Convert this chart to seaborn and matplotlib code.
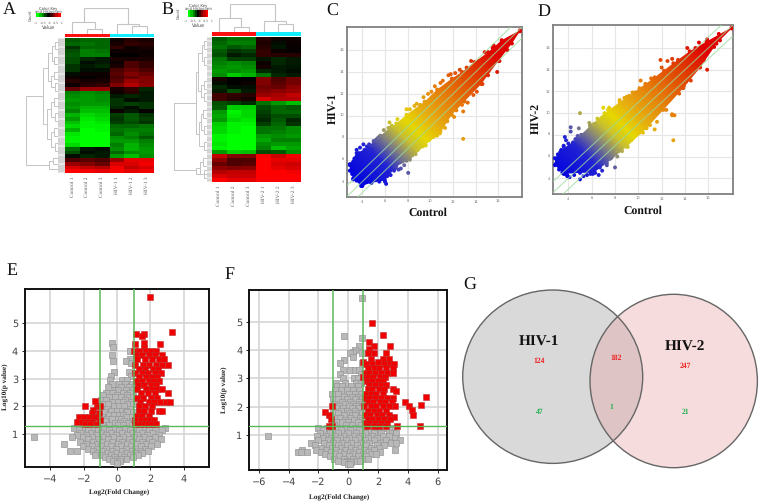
"""Multi panel figure: heatmaps, scatter plots, volcano plots and a venn diagram."""

import numpy as np
import pandas as pd
import matplotlib
matplotlib.use("Agg")
import matplotlib.pyplot as plt
import seaborn as sns
from matplotlib.colors import LinearSegmentedColormap, ListedColormap
from matplotlib.patches import Ellipse, Polygon

W, H = 760, 503
SERIF = "Liberation Serif"

# ---- heatmaps: columns are control 1-3, HIV 1-3
HEAT_A = [
    [-.35, -.40, -.40, .05, .15, .10], [-.40, -.45, -.40, .10, .20, .15],
    [-.20, -.40, -.40, .20, .05, .10], [-.30, -.50, -.45, .05, .05, .05],
    [-.35, -.50, -.50, .00, .00, .05], [-.30, -.15, -.10, .10, .10, .10],
    [-.30, -.05, -.10, .05, .30, .20], [-.20, -.10, -.15, .10, .30, .20],
    [-.20, -.05, -.05, .30, .40, .30], [-.05, .05, .05, .35, .50, .40],
    [.05, .00, .05, .30, .40, .50], [.15, .10, .10, .35, .60, .50],
    [.05, .15, .20, .50, .70, .55], [.40, .60, .60, .10, .20, -.15],
    [-.50, -.55, -.50, .05, .15, -.10], [-.55, -.60, -.55, -.10, -.15, -.10],
    [-.60, -.60, -.55, -.20, -.05, -.10], [-.55, -.60, -.60, -.20, -.25, -.20],
    [-.60, -.70, -.70, -.15, -.05, -.20], [-.50, -.75, -.75, .05, -.10, .02],
    [-.70, -.85, -.80, -.25, -.35, -.20], [-.60, -.90, -.85, -.20, -.35, -.25],
    [-.75, -.95, -.90, -.25, -.30, -.20], [-.85, -.95, -.95, -.40, -.40, -.45],
    [-.70, -1.0, -.95, -.45, -.50, -.50], [-.90, -1.0, -1.0, -.40, -.55, -.45],
    [-.95, -1.0, -1.0, -.55, -.50, -.35], [-.95, -1.0, -1.0, -.60, -.60, -.50],
    [-.85, -1.0, -1.0, -.50, -.70, -.55], [-.40, -.10, -.05, -.55, -.70, -.60],
    [-.30, -.05, -.10, -.40, -.55, -.60], [-.05, -.15, -.10, -.60, -.75, -.55],
    [.30, .35, .30, .60, .90, .90], [.60, .50, .40, .85, .85, .95],
    [.85, .75, .70, .95, .75, .85], [1.0, .95, .90, 1.0, .90, .95],
]
HEAT_B = [
    [-.35, -.45, -.45, .15, .05, .05], [-.40, -.50, -.50, .12, -.05, .05],
    [-.45, -.35, -.40, .15, -.08, .03], [-.35, -.20, -.25, .20, .05, .03],
    [-.30, -.10, -.15, .20, .15, .15], [-.45, -.25, -.25, -.08, -.15, -.10],
    [-.50, -.55, -.50, .05, -.15, -.10], [-.55, -.60, -.55, .08, -.10, -.08],
    [-.60, -.55, -.60, -.15, -.10, -.05], [-.55, -.80, -.70, -.45, -.15, -.10],
    [.10, .00, .00, .50, .30, .45], [-.05, .00, .05, .50, .35, .45],
    [-.15, -.05, -.05, .45, .40, .55], [-.10, -.30, -.10, .50, .55, .60],
    [.25, .20, .15, .60, .65, .75], [.25, .15, .10, .85, .70, .70],
    [-.30, -.25, -.15, -.45, -.60, -.75], [-.35, -.80, -.80, -.30, -.40, -.35],
    [-.60, -.95, -.85, -.25, -.40, -.40], [-.65, -.90, -.85, -.20, -.30, -.30],
    [-.60, -.85, -.90, -.15, -.35, -.15], [-.80, -.95, -.95, -.25, -.40, -.20],
    [-.85, -.95, -1.0, -.45, -.45, -.55], [-.85, -.95, -1.0, -.45, -.50, -.55],
    [-.95, -1.0, -1.0, -.60, -.55, -.60], [-.95, -1.0, -1.0, -.65, -.50, -.50],
    [-.90, -1.0, -1.0, -.55, -.60, -.60], [-.95, -1.0, -1.0, -.50, -.75, -.65],
    [-.60, -.80, -.75, -.30, -.35, -.55], [.75, .50, .50, .95, .80, .95],
    [.55, .30, .30, 1.0, .90, .90], [.40, .30, .35, 1.0, .85, .80],
    [.55, .50, .55, 1.0, .90, .85], [.70, .75, .75, 1.0, 1.0, .95],
    [.85, .80, .80, 1.0, 1.0, 1.0], [1.0, .90, .90, 1.0, 1.0, 1.0],
]
LABELS_A = ["Control 1", "Control 2", "Control 3", "HIV-1 1", "HIV-1 2", "HIV-1 3"]
LABELS_B = ["Control 1", "Control 2", "Control 3", "HIV-2 1", "HIV-2 2", "HIV-2 3"]
KEY_VALUES = [-1, -.75, -.5, -.25, 0, .25, .5, .75, 1]

# dendrogram merges: (pos1, height1, pos2, height2, height)
TOP_A = [(1.5, 0, 2.5, 0, 4.7), (.5, 0, 2.0, 4.7, 11.3), (4.5, 0, 5.5, 0, 8),
         (3.5, 0, 5.0, 8, 9.7), (1.25, 11.3, 4.25, 9.7, 25.3)]
TOP_B = [(1.5, 0, 2.5, 0, 5), (.5, 0, 2.0, 5, 14), (4.5, 0, 5.5, 0, 8.3),
         (3.5, 0, 5.0, 8.3, 11.7), (1.25, 14, 4.25, 11.7, 28)]
LEFT_A = [(1, 0, 3, 0, 3), (5, 0, 7, 0, 4), (2, 3, 6, 4, 6), (9, 0, 11, 0, 4), (12, 0, 14, 0, 3),
          (10, 4, 13, 3, 7), (4, 6, 11.5, 7, 10), (16, 0, 18, 0, 4), (20, 0, 22, 0, 3),
          (17, 4, 21, 3, 7), (24, 0, 26, 0, 4), (28, 0, 30, 0, 3), (25, 4, 29, 3, 7),
          (19, 7, 27, 7, 11), (8, 10, 23, 11, 15), (32, 0, 33.5, 0, 5), (32.7, 5, 35, 0, 9),
          (15.5, 15, 33.8, 9, 32.7)]
LEFT_B = [(1, 0, 3, 0, 3), (5, 0, 7, 0, 3), (2, 3, 6, 3, 5), (11, 0, 13, 0, 3), (14, 0, 16, 0, 3),
          (12, 3, 15, 3, 6), (4, 5, 13.5, 6, 9), (18, 0, 20, 0, 4), (22, 0, 24, 0, 3),
          (19, 4, 23, 3, 6), (26, 0, 28, 0, 3), (21, 6, 27, 3, 8), (8.7, 9, 24, 8, 10.7),
          (30, 0, 32, 0, 4), (31, 4, 34, 0, 7), (33, 0, 35, 0, 3), (32.5, 7, 34, 3, 11),
          (16.4, 10.7, 33.2, 11, 33)]

# ---- scatter clouds: outer edge of the point cloud and single points around it
C_UP_X = [2.9, 3.5, 4.5, 5.4, 6.4, 7.0, 7.9, 9.5, 10.6, 11.9, 12.8, 13.9, 15.1, 16.3, 17.9]
C_UP_Y = [5.6, 6.6, 7.1, 8.0, 8.9, 9.3, 10.1, 11.3, 12.4, 13.4, 14.0, 14.9, 15.8, 16.9, 17.8]
C_LO_X = [17.9, 17.2, 16.0, 14.5, 13.0, 11.9, 10.85, 9.5, 8.2, 7.0, 6.0, 4.8, 3.9, 3.2, 2.9]
C_LO_Y = [17.7, 16.6, 15.0, 12.9, 11.3, 10.1, 8.4, 7.3, 6.0, 5.4, 4.1, 3.9, 3.6, 4.3, 5.0]
C_DOTS_X = [2.9, 3.0, 3.1, 3.2, 3.5, 3.5, 3.7, 3.4, 3.5, 3.9, 4.0, 4.1, 3.2, 4.4, 4.7, 5.0, 5.5, 5.3, 5.6, 6.0,
            6.1, 5.9, 6.5, 6.9, 7.4, 7.6, 8.05, 7.7, 8.4, 8.9, 9.3, 9.9, 10.3, 10.9, 11.5, 10.2, 11.2, 12.3, 12.9,
            12.4, 12.8, 13.0, 12.5, 12.9, 15.9, 13.8, 14.6, 7.1, 7.9, 8.6, 9.4, 9.1, 10.1, 10.4, 11.1, 11.6, 12.2,
            13.2, 14.3, 15.5, 16.3, 4.1, 4.5, 5.0, 5.9, 6.4, 6.6, 6.3,
            3.3, 3.6, 3.8, 4.2, 4.6, 4.9, 5.2, 5.4, 3.1, 3.4, 3.7, 4.3, 4.5, 4.8, 5.2, 5.5, 5.7, 6.2, 6.8, 7.2,
            7.9, 8.7, 9.6, 10.6, 11.3, 12.1, 13.3, 14.1, 15.1, 16.1, 16.8, 8.2, 8.8, 9.8, 10.9, 11.8, 12.6, 13.6,
            14.8, 15.6]
C_DOTS_Y = [5.5, 5.0, 4.9, 5.8, 6.3, 6.9, 6.6, 4.5, 4.1, 3.8, 3.6, 3.8, 4.2, 7.2, 7.0, 7.5, 8.1, 7.9, 8.2, 4.0,
            3.8, 4.3, 4.6, 5.2, 5.2, 6.0, 4.8, 5.5, 6.4, 6.9, 7.2, 7.8, 8.1, 8.6, 9.5, 9.0, 9.9, 10.5, 10.4,
            11.0, 11.0, 11.4, 11.4, 7.9, 14.0, 11.9, 12.9, 9.7, 10.6, 10.9, 11.7, 11.0, 12.2, 12.7, 13.2, 13.7, 13.9,
            14.4, 15.0, 16.2, 16.7, 7.4, 7.1, 7.7, 8.7, 9.4, 9.1, 8.9,
            6.1, 6.0, 7.1, 6.9, 7.4, 7.3, 7.8, 7.7, 4.7, 4.9, 4.2, 4.0, 4.3, 3.9, 4.2, 4.0, 4.4, 4.5, 5.0, 5.1,
            5.9, 6.5, 7.3, 8.2, 8.9, 9.9, 11.2, 12.2, 13.7, 15.0, 16.0, 10.6, 11.1, 12.0, 13.0, 13.8, 14.2, 15.0,
            15.8, 16.4]
D_UP_X = [2.85, 3.4, 4.7, 5.85, 7.1, 8.4, 10.1, 11.4, 13.0, 14.4, 15.85, 18.0]
D_UP_Y = [5.85, 6.6, 7.6, 8.8, 10.0, 11.0, 12.3, 13.3, 14.6, 15.7, 16.6, 17.9]
D_LO_X = [18.0, 16.7, 15.3, 13.85, 12.15, 10.7, 9.0, 7.3, 6.15, 5.0, 3.6, 2.85]
D_LO_Y = [17.8, 16.4, 14.2, 12.3, 10.3, 8.6, 6.9, 5.4, 4.5, 4.5, 4.4, 5.2]
D_DOTS_X = [2.9, 3.0, 3.3, 3.4, 3.6, 3.5, 3.7, 3.9, 4.2, 4.2, 3.7, 3.8, 4.9, 5.0, 5.8, 5.9, 6.1, 6.3, 6.6, 6.9,
            7.0, 7.4, 8.0, 5.0, 7.3, 7.7, 8.6, 8.2, 9.1, 10.1, 10.7, 11.4, 11.6, 13.1, 12.9, 13.0, 12.9, 11.4,
            15.9, 13.9, 14.1, 9.0, 9.7, 10.2, 11.9, 12.5, 6.5, 6.2, 5.5, 5.1, 4.8, 14.9, 15.9, 16.5, 17.0,
            4.4, 5.3, 6.9, 7.5, 8.4, 9.5, 11.1, 12.2, 13.4, 14.8,
            3.1, 3.3, 3.6, 4.0, 4.3, 4.6, 3.2, 3.5, 3.9, 4.1, 4.5, 5.3, 5.6, 5.9, 6.7, 7.6, 8.3, 9.4, 10.4, 11.0,
            12.4, 13.5, 14.5, 15.6, 16.2, 8.8, 9.2, 10.6, 12.0, 12.9, 14.2, 15.2, 16.9]
D_DOTS_Y = [5.3, 5.7, 6.0, 6.6, 7.0, 4.5, 4.4, 4.3, 8.3, 8.7, 7.8, 7.5, 8.6, 10.0, 9.1, 8.9, 4.4, 4.5, 4.3, 4.7,
            10.5, 10.3, 5.0, 3.9, 5.2, 5.9, 6.5, 6.0, 6.9, 8.2, 8.7, 8.5, 9.2, 9.8, 9.8, 7.5, 9.9, 13.0,
            14.0, 12.5, 12.9, 11.5, 11.9, 13.0, 14.9, 14.8, 9.5, 9.0, 8.1, 8.0, 7.9, 16.0, 16.8, 16.1, 16.7,
            7.3, 8.0, 9.6, 10.5, 11.2, 11.9, 13.2, 13.9, 14.9, 15.6,
            6.2, 6.4, 6.9, 7.2, 7.0, 7.6, 4.8, 4.6, 4.2, 4.1, 4.3, 4.2, 4.3, 4.4, 5.0, 5.8, 6.5, 7.5, 8.2, 8.9,
            10.3, 11.8, 13.0, 14.9, 16.0, 11.4, 11.6, 12.7, 14.2, 15.0, 16.0, 16.5, 17.3]

# ---- volcano plots: log10(p) row -> log2 fold changes in that row
E_GRAY_ROWS = {
    4.3: [-.3], 4.15: [-.25], 4.0: [.75], 3.85: [-.3], 3.7: [.75], 3.63: [-.25, .55], 3.55: [.85],
    3.25: [-.2, .7], 3.1: [-.35, .85], 2.95: [-.4, .32, .62], 2.82: [-.33, .12, .47, .88],
    2.7: [-.52, .26, .73], 2.6: [-.12, .05, .55, .93], 2.5: [-.68, -.27, .36, .8], 2.42: [-.85, .02, .6],
    2.33: [-.47, -.15, .22, .72, .97], 2.24: [-.97, -.64, .45], 2.15: [-.31, .03, .33, .85],
    2.08: [-.8, -.52, .6, .98], 2.0: [-.18, .14, .42], 1.92: [-.93, -.63, .75], 1.85: [-.36, -.03, .28, .52],
    1.78: [-.77, .95, .62], 1.7: [-.48, -.2, .12, .38], 1.62: [-.92, .8, .55], 1.55: [-.6, -.31, .04, .26],
    1.47: [-1.02, -.75, .42, .98], 1.4: [-.12, .18, .68], 1.33: [-.88, -.46, .08, .36, .88],
    1.22: [-2.6, -2.05, -1.45, -.8, -.2, .45, 1.05, 1.62, 2.25, 2.9],
    1.14: [-2.28, -1.72, -1.12, -.5, .12, .75, 1.32, 1.92, 2.7],
    1.05: [-2.15, -1.58, -.97, -.34, .28, .9, 1.5, 2.12],
    .97: [-2.42, -1.85, -1.28, -.66, -.06, .58, 1.2, 1.78, 2.5],
    .9: [-5, -2.7, -2.05, -1.48, -.84, -.22, .36, 1.0, 1.6, 2.3],
    .82: [-1.72, -1.12, -.53, .12, .74, 1.34, 1.92, 2.62],
    .73: [-2.25, -1.42, -.88, -.3, .3, .92, 1.5, 2.12],
    .65: [-3.2, -1.86, -1.22, -.6, .05, .62, 1.18, 1.72, 2.42],
    .56: [-2.02, -1.5, -.95, -.36, .26, .84, 1.42, 2.02],
    .47: [-1.72, -1.2, -.66, -.08, .52, 1.1, 1.66],
    .4: [-2.8, -2.4, -1.45, -.86, -.3, .3, .88, 1.36, 1.88],
    .32: [-1.2, -.6, -.05, .52, 1.1, 1.52],
    .24: [-1.32, -.9, -.34, .24, .78, 1.28],
    .16: [-.72, -.18, .42, .98],
    .09: [-.5, -.02, .55, .22], .02: [-.24, .2], -.04: [-.02],
}
E_RED_ROWS = {
    5.95: [1.95], 4.7: [3.3], 4.6: [1.15, 1.6], 4.55: [1.5], 4.3: [1.6], 4.25: [1.05, 2.6], 4.1: [1.6],
    4.0: [1.0, 1.32, 1.72, 2.02, 2.34], 3.87: [1.12, 1.48, 1.93, 2.28, 2.68], 3.72: [1.22, 1.7, 2.1, 2.52, 2.8],
    3.5: [1.08, 1.53, 1.9, 2.33, 2.7, 3.05], 3.36: [1.3, 1.68, 2.14, 2.48], 3.22: [1.1, 1.52, 1.87, 2.3, 2.62],
    3.06: [1.32, 1.72, 2.08, 2.42], 2.92: [1.12, 1.48, 1.93, 2.2, 2.52], 2.76: [1.28, 1.62, 2.03, 2.33],
    2.62: [1.18, 1.72, 2.12, 2.38, 2.7], 2.5: [1.42, 1.83, 2.28, 3.05], 2.32: [1.2, 1.58, 2.03, 2.42],
    2.15: [1.38, 1.92, 2.22, 2.6, 2.92, 3.2], 2.02: [1.32, 1.7, 2.1, -1.95, -1.2, -1.05], 2.2: [-1.3],
    1.87: [-1.45], 1.82: [1.3, 1.62, 2.02, 2.5, 2.7], 1.75: [-1.5, -1.1], 1.66: [1.2, 1.52, 1.9],
    1.6: [-2.3, -2, -1.7, -1.4, -1.2], 1.5: [1.1, 1.42, 1.72, 2.0, 2.2, -1.05],
    1.42: [-2.4, -2.1, -1.8, -1.5], 1.35: [1.08, 1.38, 1.62, 1.88, 2.12, 2.32, -1.9, -1.6, -1.2],
}
F_GRAY_ROWS = {
    5.85: [.9], 4.52: [-.3], 4.42: [.9], 4.15: [.75], 4.0: [.45], 3.95: [.3], 3.9: [.1, .95], 3.75: [.3],
    3.65: [-.3], 3.55: [-.55, .9], 3.3: [-.35, .1, .42, .7], 3.15: [-.55, .85], 3.0: [-.33, .35, .65],
    2.85: [-.8, -.2, .52, .86], 2.72: [-.75, -.42, .15, .66], 2.58: [-.92, -.5, -.08, .3, .72],
    2.46: [-1.12, -.68, .02, .45, .88], 2.36: [-.32, .24, .62], 2.27: [-1.05, -.72, -.1, .42, .95],
    2.18: [-.42, .1, .7], 2.1: [-.95, -.2, .33, .82], 2.02: [-.62, .04, .52, .97], 1.94: [-.84, -.34, .22, .72],
    1.85: [-1.0, -.5, -.1, .42], 1.77: [-.7, .06, .62, .92], 1.69: [-.32, .28, .48], 1.61: [-.92, -.58, .12, .78],
    1.52: [-.24, .38, .95], 1.45: [-.75, -.44, 0, .62], 1.36: [-.98, -.14, .24, .84],
    1.24: [-2.0, -1.42, -.82, -.2, .42, 1.02, 1.62, 2.4, 3.0],
    1.16: [-1.7, -1.12, -.5, .12, .72, 1.32, 2.02, 2.72],
    1.08: [-1.9, -1.25, -.66, -.05, .55, 1.15, 1.75, 2.2, 2.9, 3.2],
    .98: [-5.4, -2.1, -1.48, -.88, -.28, .35, .95, 1.6, 2.32, 2.7],
    .9: [-1.72, -1.14, -.55, .05, .66, 1.3, 1.95, 3.1],
    .82: [-2.0, -1.36, -.76, -.14, .46, 1.1, 1.75, 2.5, 3.5],
    .72: [-2.5, -1.62, -1.02, -.42, .2, .85, 1.42, 2.1, 2.85, 3.2],
    .64: [-2.2, -1.32, -.7, -.06, .56, 1.2, 1.9, 2.4],
    .55: [-1.82, -1.08, -.46, .18, .8, 1.5, 2.05],
    .47: [-3.1, -2.15, -1.48, -.84, -.22, .42, 1.06, 1.72, 3.1],
    .4: [-3.4, -3.2, -2.8, -1.86, -1.18, -.55, .1, .7, 1.32, 2.1],
    .33: [-1.55, -.92, -.3, .34, .96, 1.52, 1.85],
    .25: [-1.22, -.62, .02, .62, 1.22],
    .16: [-.96, -.32, .3, .92, 1.3],
    .09: [-.68, -.1, .5, .8], .03: [-.3, .2], -.03: [-.05, .1],
}
F_RED_ROWS = {
    4.97: [1.6], 4.55: [2.35], 4.3: [1.4], 4.15: [1.75, 2.8], 4.05: [1.4], 3.9: [1.3, 1.75, 2.5], 3.7: [2.3, 1.5, 2.7],
    3.6: [1.0, 2.0], 3.5: [1.2, 1.62, 2.42, 2.8, 3.05], 3.36: [1.3, 1.72, 2.08, 2.52, 3.0],
    3.2: [1.12, 1.42, 1.78, 2.22, 2.62, 3.0], 3.06: [1.0, 1.32, 1.68, 2.12, 2.48], 2.92: [1.28, 1.62, 2.02, 2.32],
    2.76: [1.42, 1.78, 2.22, 2.52], 2.62: [1.3, 1.58, 2.03, 2.38, 3.0], 2.55: [3.2], 2.46: [1.22, 1.52, 1.88, 2.32],
    2.35: [5.2], 2.3: [1.1, 1.42, 1.82, 2.18, 2.62, 3.0], 2.16: [1.3, 1.68, 2.12, 2.48, 2.92, 3.8],
    2.07: [4.85], 2.02: [1.08, 1.52, 1.88, 2.32, 2.72, 3.1, 4.1, -1.1], 1.9: [4.3], 1.86: [1.32, 1.7, 2.08, 2.52],
    1.82: [-1.55], 1.7: [1.1, 1.48, 1.92, 2.28, 2.72, 4.35, -1.3], 1.65: [3.05], 1.55: [1.3, 1.62, 2.02, 2.38, 2.8, -1.15],
    1.42: [1.1, 1.42, 1.78, 2.22, 2.62], 1.33: [1.28, 1.72, 2.08, 2.52, 3.25, 4.8, -1.3, -1.1],
}

# ---- venn diagram counts
VENN_UP = ["124", "182", "247"]
VENN_DOWN = ["47", "1", "21"]

HEAT_CMAP = LinearSegmentedColormap.from_list("gkr", ["#00ff00", "#000000", "#ff0000"])
INTENSITY_CMAP = LinearSegmentedColormap.from_list("intensity", [
    (0.0, "#0000e0"), (0.16, "#2222d4"), (0.24, "#7d7d85"), (0.31, "#c8c030"), (0.37, "#e6d800"),
    (0.46, "#e6ac10"), (0.60, "#e67408"), (0.76, "#e03400"), (0.88, "#e00000"), (1.0, "#e00000")])

sns.set_style("white")
plt.rcParams["font.family"] = ["DejaVu Sans"]
plt.rcParams["text.hinting"] = "no_hinting"
fig = plt.figure(figsize=(W / 100, H / 100), dpi=100)


def px_axes(left, top, right, bottom):
    """Axes placed by pixel position in the 760x503 picture."""
    return fig.add_axes([left / W, 1 - bottom / H, (right - left) / W, (bottom - top) / H])


def px_text(x, y, s, **kw):
    kw.setdefault("ha", "center")
    kw.setdefault("va", "center")
    fig.text(x / W, 1 - y / H, s, **kw)


def draw_dendrogram(ax, merges, vertical):
    for p1, h1, p2, h2, h in merges:
        xs, ys = [p1, p1, p2, p2], [h1, h, h, h2]
        if vertical:
            ax.plot(xs, ys, color="#c4c4c4", lw=0.8, solid_joinstyle="miter")
        else:
            ax.plot(ys, xs, color="#c4c4c4", lw=0.7, solid_joinstyle="miter")
    ax.axis("off")


def heatmap_panel(rows, labels, top_merges, left_merges, box, split_y, key):
    left, top, right, bottom, den_left, den_base, top_y = box
    n = len(rows)

    ax = px_axes(left, top, right, bottom)
    sns.heatmap(pd.DataFrame(rows), ax=ax, cmap=HEAT_CMAP, vmin=-1, vmax=1, cbar=False,
                xticklabels=labels, yticklabels=False)
    ax.tick_params(axis="x", length=0, pad=2.5, labelsize=3.9, labelcolor="#555555", rotation=90)
    for t in ax.get_xticklabels():
        t.set_family(SERIF)
    ax.set_yticks(np.arange(0.15, n, 0.3))
    ax.set_yticklabels([])
    ax.tick_params(axis="y", left=True, length=(left - den_base) * 0.72, width=0.35, color="#9a9a9a")
    ax.set_xlabel("")
    ax.set_ylabel("")

    bar = px_axes(left, split_y[0], right, split_y[1])
    sns.heatmap(pd.DataFrame([[0, 0, 0, 1, 1, 1]]), ax=bar, cmap=ListedColormap(["#ff1010", "#10eeff"]),
                cbar=False, xticklabels=False, yticklabels=False)
    bar.set_xlabel("")
    bar.set_ylabel("")

    top_ax = px_axes(left, top_y, right, split_y[0])
    draw_dendrogram(top_ax, top_merges, True)
    top_ax.set_xlim(0, 6)
    top_ax.set_ylim(0, split_y[0] - top_y)

    left_ax = px_axes(den_left, top, den_base, bottom)
    draw_dendrogram(left_ax, left_merges, False)
    left_ax.set_xlim(den_base - den_left, 0)
    left_ax.set_ylim(n, 0)

    # colour key
    kl, kt, kr, kb, title_y, value_y, count_x = key
    key_ax = px_axes(kl, kt, kr, kb)
    sns.heatmap(pd.DataFrame([KEY_VALUES]), ax=key_ax, cmap=HEAT_CMAP, vmin=-1, vmax=1, cbar=False,
                xticklabels=False, yticklabels=False)
    key_ax.set_xlabel("")
    key_ax.set_ylabel("")
    cx = (kl + kr) / 2
    px_text(cx, title_y, "Color Key", fontsize=2.8, color="#444444")
    px_text(cx, title_y + 3.5, "and Histogram", fontsize=2.6, color="#444444")
    px_text(cx, value_y - 4.5, "-1   -0.5   0   0.5   1", fontsize=2.2, color="#555555")
    px_text(cx, value_y, "Value", fontsize=3.4, color="#444444")
    px_text(count_x, (kt + kb) / 2, "Count", fontsize=2.8, rotation=90, color="#444444")


def cloud_panel(box, xlim, ylim, up_x, up_y, lo_x, lo_y, dots_x, dots_y):
    ax = px_axes(*box)
    ax.set_xlim(*xlim)
    ax.set_ylim(*ylim)

    # filled cloud, coloured by mean intensity
    gx, gy = np.meshgrid(np.arange(xlim[0], xlim[1], 0.05), np.arange(ylim[0], ylim[1], 0.05))
    img = ax.imshow((gx + gy) / 2, extent=(*xlim, *ylim), origin="lower", aspect="auto",
                    cmap=INTENSITY_CMAP, vmin=3.5, vmax=17.5, zorder=2)
    outline = Polygon(np.column_stack([up_x + lo_x, up_y + lo_y]), closed=True, transform=ax.transData)
    img.set_clip_path(outline)

    df = pd.DataFrame({"x": dots_x, "y": dots_y})
    df["mean"] = (df["x"] + df["y"]) / 2
    edge = pd.DataFrame({"x": up_x + lo_x, "y": up_y + lo_y})
    edge["mean"] = (edge["x"] + edge["y"]) / 2
    for part in (df, edge):
        sns.scatterplot(data=part, x="x", y="y", hue="mean", palette=INTENSITY_CMAP, hue_norm=(3.5, 17.5),
                        s=8, linewidth=0, legend=False, ax=ax, zorder=3)

    for shift in (-1, 0, 1):
        ax.axline((4, 4 + shift), slope=1, color="#9bdc9b", lw=0.8, alpha=0.75, zorder=4)

    ax.set_xticks([4, 6, 8, 10, 12, 14, 16])
    ax.set_yticks([4, 6, 8, 10, 12, 14, 16])
    ax.grid(True, color="#e6e6e6", lw=0.8)
    ax.set_axisbelow(True)
    ax.tick_params(length=0, labelsize=2.6, labelcolor="#777777", pad=2)
    ax.set_xlabel("")
    ax.set_ylabel("")
    for s in ax.spines.values():
        s.set_color("#808080")
        s.set_linewidth(1.3)


def rows_to_frame(rows):
    pts = [(x, y) for y, xs in rows.items() for x in xs]
    return pd.DataFrame(pts, columns=["fc", "logp"])


def volcano_panel(box, xlim, ylim, xticks, gray_rows, red_rows):
    ax = px_axes(*box)
    sns.scatterplot(data=rows_to_frame(gray_rows), x="fc", y="logp", marker="s", s=22, color="#b8b8b8",
                    edgecolor="#979797", linewidth=0.5, ax=ax, zorder=3)
    sns.scatterplot(data=rows_to_frame(red_rows), x="fc", y="logp", marker="s", s=22, color="#f00000",
                    edgecolor="#c03030", linewidth=0.4, ax=ax, zorder=4)
    ax.set_xlim(*xlim)
    ax.set_ylim(*ylim)
    ax.set_xticks(xticks)
    ax.set_yticks([1, 2, 3, 4, 5])
    ax.grid(True, color="#d2d2d2", lw=1.1)
    ax.set_axisbelow(True)
    ax.axhline(1.3, color="#5cb85c", lw=1, zorder=5)
    ax.axvline(-1, color="#5cb85c", lw=1.1, zorder=5)
    ax.axvline(1, color="#5cb85c", lw=1.1, zorder=5)
    ax.tick_params(left=True, bottom=True, length=2.5, width=0.7, labelsize=7, labelcolor="#444444", pad=2.5)
    ax.set_xlabel("")
    ax.set_ylabel("")
    for s in ax.spines.values():
        s.set_color("#111111")
        s.set_linewidth(1.4)


# ---- panels A and B
heatmap_panel(HEAT_A, LABELS_A, TOP_A, LEFT_A, (65, 38, 154, 173, 25, 58.3, 8), (33.7, 37),
              (36, 12.7, 61, 17.3, 8, 27.5, 31.5))
heatmap_panel(HEAT_B, LABELS_B, TOP_B, LEFT_B, (211.7, 37.3, 300.7, 181.7, 173, 206.7, 4), (32.3, 35.7),
              (188.3, 10, 207.7, 16.7, 5, 25.7, 180))

# ---- panels C and D
cloud_panel((347, 27, 522, 197), (2.65, 18.09), (2.6, 18.1), C_UP_X, C_UP_Y, C_LO_X, C_LO_Y, C_DOTS_X, C_DOTS_Y)
cloud_panel((552.7, 25, 732.7, 194), (2.66, 18.09), (2.55, 18.12), D_UP_X, D_UP_Y, D_LO_X, D_LO_Y,
            D_DOTS_X, D_DOTS_Y)

# ---- panels E and F
volcano_panel((25, 289.3, 209, 467.3), (-5.52, 5.52), (-0.2, 6.23), [-4, -2, 0, 2, 4], E_GRAY_ROWS, E_RED_ROWS)
volcano_panel((249.3, 290.3, 446.7, 470), (-6.64, 6.6), (-0.24, 6.12), [-6, -4, -2, 0, 2, 4, 6],
              F_GRAY_ROWS, F_RED_ROWS)

# ---- panel G, drawn on a full-figure axes in pixel units
venn = fig.add_axes([0, 0, 1, 1], zorder=-1)
venn.set_xlim(0, W)
venn.set_ylim(H, 0)
venn.axis("off")
venn.add_patch(Ellipse((552.7, 376.7), 180, 173.4, facecolor="#d9d9d9", edgecolor="none"))
venn.add_patch(Ellipse((673.7, 381), 167.4, 173.4, facecolor="#e8a0a0", alpha=0.36, edgecolor="none"))
venn.add_patch(Ellipse((552.7, 376.7), 180, 173.4, facecolor="none", edgecolor="#666666", lw=1))
venn.add_patch(Ellipse((673.7, 381), 167.4, 173.4, facecolor="none", edgecolor="#666666", lw=1))

px_text(539, 341.7, "HIV-1", family=SERIF, weight="bold", fontsize=11, color="#111111")
px_text(685.3, 347.3, "HIV-2", family=SERIF, weight="bold", fontsize=11, color="#111111")
for (x, y), s in zip([(539.3, 360.7), (615.7, 357.7), (685.3, 366.3)], VENN_UP):
    px_text(x, y, s, family=SERIF, weight="bold", fontsize=5.5, color="#f02020")
for (x, y), s in zip([(539.3, 412.3), (611.7, 407), (685.3, 412.3)], VENN_DOWN):
    px_text(x, y, s, family=SERIF, weight="bold", fontsize=5.5, color="#20b050")

# ---- axis titles and panel letters
px_text(334, 108, "HIV-1", family=SERIF, weight="bold", fontsize=8.5, rotation=90, color="#111111")
px_text(428.3, 213, "Control", family=SERIF, weight="bold", fontsize=8.5, color="#111111")
px_text(537, 118, "HIV-2", family=SERIF, weight="bold", fontsize=8.5, rotation=90, color="#111111")
px_text(642.7, 210.7, "Control", family=SERIF, weight="bold", fontsize=8.5, color="#111111")
px_text(5.7, 386.7, "Log10(p value)", family=SERIF, weight="bold", fontsize=5.2, rotation=90, color="#222222")
px_text(119, 493, "Log2(Fold Change)", family=SERIF, weight="bold", fontsize=5.2, color="#222222")
px_text(224.5, 390, "Log10(p value)", family=SERIF, weight="bold", fontsize=5.2, rotation=90, color="#222222")
px_text(339, 497.3, "Log2(Fold Change)", family=SERIF, weight="bold", fontsize=5.2, color="#222222")

for letter, x, y in [("A", 9, 9.5), ("B", 167, 9.5), ("C", 332.3, 11), ("D", 544, 11.5),
                     ("E", 12.3, 270.7), ("F", 229, 275), ("G", 470, 285.7)]:
    px_text(x, y, letter, family=SERIF, fontsize=13, color="#111111")

fig.savefig("out.png", dpi=100)
plt.close(fig)
